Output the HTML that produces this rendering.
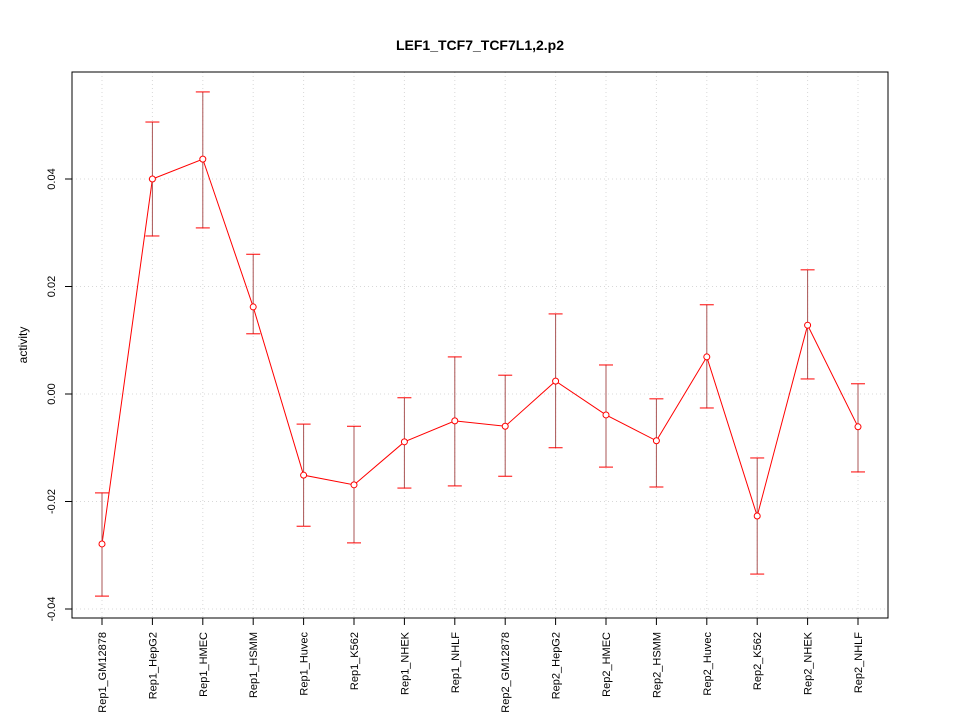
<!DOCTYPE html>
<html><head><meta charset="utf-8"><style>
body{margin:0;background:#fff}
text{font-family:"Liberation Sans",sans-serif}
</style></head><body>
<svg id="chart" width="960" height="720" xmlns="http://www.w3.org/2000/svg">
<rect width="960" height="720" fill="#fff"/>
<text x="480" y="50" text-anchor="middle" font-size="14" font-weight="bold">LEF1_TCF7_TCF7L1,2.p2</text>
<text x="27" y="345" text-anchor="middle" font-size="12" transform="rotate(-90 27 345)">activity</text>
<g id="grid"></g>
<g id="marks"></g>
<rect x="72" y="72" width="816" height="546" fill="none" stroke="#000"/>
<g id="axes"></g>
</svg>
<script>
const categories=["Rep1_GM12878","Rep1_HepG2","Rep1_HMEC","Rep1_HSMM","Rep1_Huvec","Rep1_K562","Rep1_NHEK","Rep1_NHLF","Rep2_GM12878","Rep2_HepG2","Rep2_HMEC","Rep2_HSMM","Rep2_Huvec","Rep2_K562","Rep2_NHEK","Rep2_NHLF"];
const values=[-0.0279,0.0400,0.0437,0.0162,-0.0151,-0.0169,-0.0089,-0.0050,-0.0060,0.0024,-0.0039,-0.0087,0.0069,-0.0227,0.0128,-0.0061];
const upper=[-0.0184,0.0506,0.0562,0.0260,-0.0056,-0.0060,-0.0007,0.0069,0.0035,0.0149,0.0054,-0.0009,0.0166,-0.0119,0.0231,0.0019];
const lower=[-0.0376,0.0294,0.0309,0.0112,-0.0246,-0.0277,-0.0175,-0.0171,-0.0153,-0.0100,-0.0136,-0.0173,-0.0026,-0.0335,0.0028,-0.0145];
const yTicks=[-0.04,-0.02,0,0.02,0.04];
const yTickLabels=["-0.04","-0.02","0.00","0.02","0.04"];
const NS="http://www.w3.org/2000/svg";
const x=i=>102+i*(756/(categories.length-1));
const y=v=>394-v*5375;
function mk(p,t,a){const e=document.createElementNS(NS,t);for(const k in a)e.setAttribute(k,a[k]);p.appendChild(e);return e;}
const grid=document.getElementById('grid'),marks=document.getElementById('marks'),axes=document.getElementById('axes');
categories.forEach((c,i)=>{
 const g=mk(grid,'line',{x1:x(i),x2:x(i),y1:72,y2:618,stroke:'#d8d8d8','stroke-dasharray':'1,3'});
 
 
 const t=mk(axes,'line',{x1:x(i),x2:x(i),y1:618,y2:625,stroke:'#000'});
 
 
 const l=mk(axes,'text',{x:0,y:0,'font-size':11,'text-anchor':'end',transform:`translate(${x(i)+4},632) rotate(-90)`});
 l.textContent=c;
 
 
});
yTicks.forEach((v,i)=>{
 const g=mk(grid,'line',{x1:72,x2:888,y1:y(v),y2:y(v),stroke:'#d8d8d8','stroke-dasharray':'1,3'});
 
 
 const t=mk(axes,'line',{x1:65,x2:72,y1:y(v),y2:y(v),stroke:'#000'});
 
 
 const l=mk(axes,'text',{x:0,y:0,'font-size':11,'text-anchor':'middle',transform:`translate(55,${y(v)}) rotate(-90)`});
 l.textContent=yTickLabels[i];
 
 
});
const pl=mk(marks,'polyline',{points:values.map((v,i)=>x(i)+','+y(v)).join(' '),fill:'none',stroke:'#f00'});


values.forEach((v,i)=>{
 const e=mk(marks,'g',{stroke:'#f00',fill:'none'});
 
 
 mk(e,'line',{x1:x(i),x2:x(i),y1:y(upper[i]),y2:y(lower[i]),stroke:'#a55'});
 mk(e,'line',{x1:x(i)-7,x2:x(i)+7,y1:y(upper[i]),y2:y(upper[i])});
 mk(e,'line',{x1:x(i)-7,x2:x(i)+7,y1:y(lower[i]),y2:y(lower[i])});
 const p=mk(marks,'circle',{cx:x(i),cy:y(v),r:3,fill:'#fff',stroke:'#f00'});
 
 
});
</script>
</body></html>
